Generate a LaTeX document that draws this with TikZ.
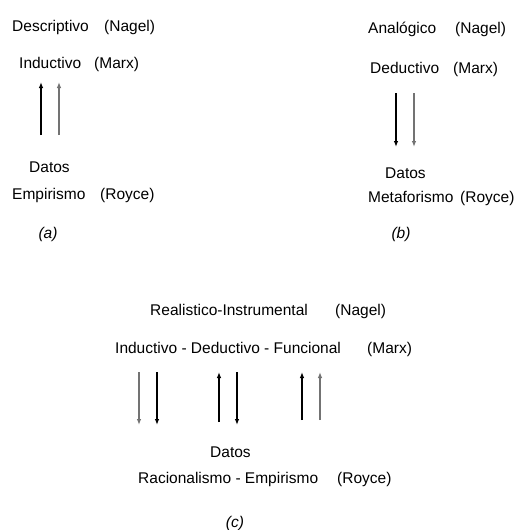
\documentclass[tikz,border=0pt]{standalone}
\usepackage{fontspec}
\setmainfont{Liberation Sans}
\usetikzlibrary{arrows.meta}
\usetikzlibrary{positioning}

\begin{document}
\begin{tikzpicture}[x=1pt,y=-1pt,
  txt/.style={anchor=base west,inner sep=0pt,font=\fontsize{15.5}{18}\selectfont},
  tag/.style={anchor=base,inner sep=0pt,font=\fontsize{15.5}{18}\selectfont\itshape},
  flow/.style={-{Latex[length=6pt,width=4.5pt]},line width=1.1pt},
  faint/.style={flow,black!55}]
  \useasboundingbox (0,0) rectangle (519,530);
  % (a)
  \node[txt] (descr) at (12,31) {Descriptivo};
  \node[txt] (nagela) at (104,31) {(Nagel)};
  \node[txt] (induca) at (19,68) {Inductivo};
  \node[txt] (marxa) at (94,68) {(Marx)};
  \node[txt] (datosa) at (29,172) {Datos};
  \node[txt] (empir) at (12,199) {Empirismo};
  \node[txt] (roycea) at (100,199) {(Royce)};
  \node[tag] (taga) at (48,238) {(a)};
  \coordinate (a1b) at (41,135); \coordinate (a1t) at (41,82);
  \coordinate (a2b) at (59,135); \coordinate (a2t) at (59,82);
  \draw[flow] (a1b) -- (a1t);
  \draw[faint] (a2b) -- (a2t);
  % (b)
  \node[txt] (analog) at (368,33) {Analógico};
  \node[txt] (nagelb) at (455,33) {(Nagel)};
  \node[txt] (deduc) at (370,73) {Deductivo};
  \node[txt] (marxb) at (453,73) {(Marx)};
  \node[txt] (datosb) at (385,178) {Datos};
  \node[txt] (metaf) at (368,202) {Metaforismo};
  \node[txt] (royceb) at (460,202) {(Royce)};
  \node[tag] (tagb) at (401,238) {(b)};
  \coordinate (b1t) at (396,93); \coordinate (b1b) at (396,147);
  \coordinate (b2t) at (414,93); \coordinate (b2b) at (414,147);
  \draw[flow] (b1t) -- (b1b);
  \draw[faint] (b2t) -- (b2b);
  % (c)
  \node[txt] (realis) at (150,315) {Realistico-Instrumental};
  \node[txt] (nagelc) at (335,315) {(Nagel)};
  \node[txt] (indded) at (115,353) {Inductivo - Deductivo - Funcional};
  \node[txt] (marxc) at (367,353) {(Marx)};
  \node[txt] (datosc) at (210,457) {Datos};
  \node[txt] (racemp) at (138,483) {Racionalismo - Empirismo};
  \node[txt] (roycec) at (337,483) {(Royce)};
  \node[tag] (tagc) at (235,527) {(c)};
  \coordinate (c1t) at (139,372); \coordinate (c1b) at (139,425);
  \coordinate (c2t) at (157,372); \coordinate (c2b) at (157,425);
  \coordinate (c3t) at (219,372); \coordinate (c3b) at (219,422);
  \coordinate (c4t) at (237,372); \coordinate (c4b) at (237,425);
  \coordinate (c5t) at (302,372); \coordinate (c5b) at (302,420);
  \coordinate (c6t) at (320,372); \coordinate (c6b) at (320,420);
  \draw[faint] (c1t) -- (c1b);
  \draw[flow] (c2t) -- (c2b);
  \draw[flow] (c3b) -- (c3t);
  \draw[flow] (c4t) -- (c4b);
  \draw[flow] (c5b) -- (c5t);
  \draw[faint] (c6b) -- (c6t);
\end{tikzpicture}
\end{document}
